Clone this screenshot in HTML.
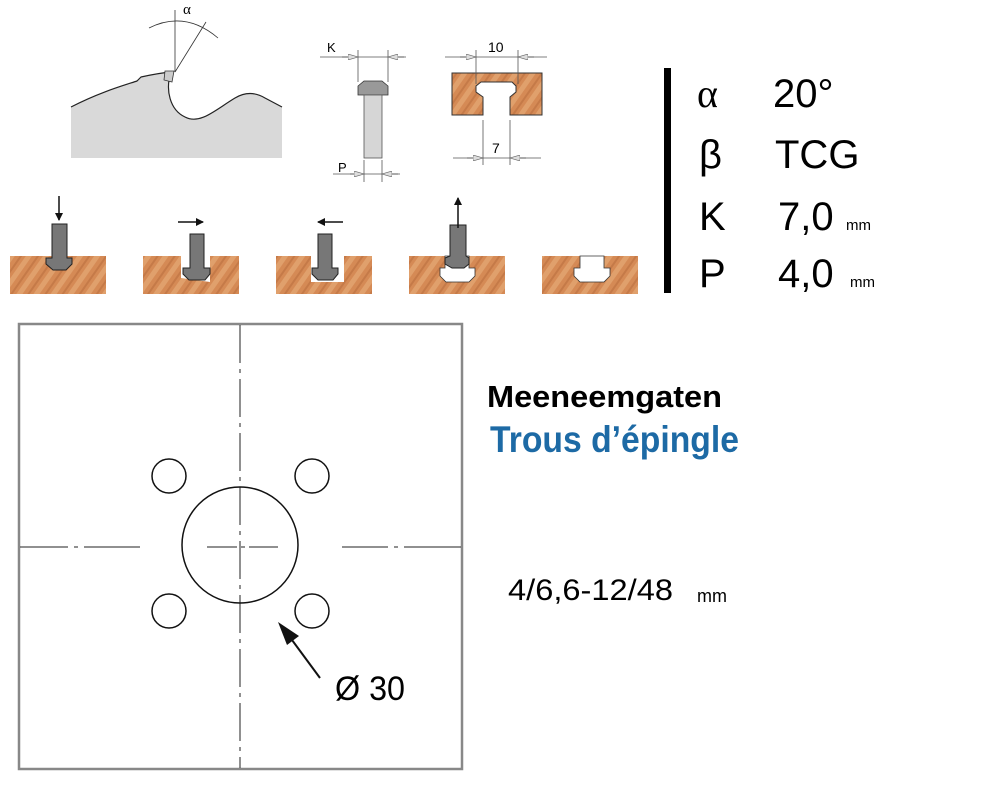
<!DOCTYPE html>
<html><head><meta charset="utf-8"><style>
html,body{margin:0;padding:0;background:#fff;}
svg{display:block;}
</style></head><body>
<svg width="1000" height="798" viewBox="0 0 1000 798" xmlns="http://www.w3.org/2000/svg" font-family="Liberation Sans, Arial, sans-serif">
<defs>
<pattern id="wood" width="14" height="14" patternUnits="userSpaceOnUse" patternTransform="rotate(35)">
<rect width="14" height="14" fill="#d58a55"/>
<rect width="5" height="14" fill="#e0a06c"/>
<rect x="9" width="2" height="14" fill="#c57a48"/>
</pattern>
<marker id="ah" markerWidth="8" markerHeight="8" refX="7" refY="4" orient="auto" markerUnits="userSpaceOnUse"><path d="M0,0 L8,4 L0,8 Z" fill="#111"/></marker>
<marker id="dt" markerWidth="10" markerHeight="6" refX="10" refY="3" orient="auto" markerUnits="userSpaceOnUse"><path d="M0,0 L10,3 L0,6 Z" fill="#ddd" stroke="#666" stroke-width="0.6"/></marker>
</defs>

<!-- saw profile -->
<path d="M71,107 C100,92 125,85 137,81 L141,77 C150,75 160,73 171,72 C165,90 170,110 185,117 C200,125 215,110 235,98 C245,92 255,92 265,98 L282,107 L282,158 L71,158 Z" fill="#d9d9d9"/>
<path d="M71,107 C100,92 125,85 137,81 L141,77 C150,75 160,73 171,72 C165,90 170,110 185,117 C200,125 215,110 235,98 C245,92 255,92 265,98 L282,107" fill="none" stroke="#222" stroke-width="1.2"/>
<path d="M165,71 L174,71 L172,82 L164,80 Z" fill="#ccc" stroke="#333" stroke-width="0.8"/>
<line x1="175" y1="10" x2="175" y2="72" stroke="#333" stroke-width="0.8"/>
<line x1="175" y1="72" x2="206" y2="22" stroke="#333" stroke-width="0.8"/>
<path d="M149,28 Q185,10 218,38" fill="none" stroke="#333" stroke-width="0.8"/>
<text x="183" y="14" font-size="15" font-family="Liberation Serif, serif">α</text>

<!-- tool K/P -->
<line x1="320" y1="57" x2="406" y2="57" stroke="#555" stroke-width="0.8"/>
<line x1="358" y1="50" x2="358" y2="82" stroke="#555" stroke-width="0.8"/>
<line x1="388" y1="50" x2="388" y2="82" stroke="#555" stroke-width="0.8"/>
<line x1="342" y1="57" x2="358" y2="57" stroke="#555" marker-end="url(#dt)"/>
<line x1="404" y1="57" x2="388" y2="57" stroke="#555" marker-end="url(#dt)"/>
<text x="327" y="52" font-size="13">K</text>
<path d="M358,95 L358,86 L364,81 L382,81 L388,86 L388,95 Z" fill="#999" stroke="#333" stroke-width="0.8"/>
<rect x="364" y="95" width="18" height="63" fill="#d6d6d6" stroke="#555" stroke-width="0.8"/>
<line x1="364" y1="160" x2="364" y2="182" stroke="#555" stroke-width="0.8"/>
<line x1="382" y1="160" x2="382" y2="182" stroke="#555" stroke-width="0.8"/>
<line x1="333" y1="174" x2="400" y2="174" stroke="#555" stroke-width="0.8"/>
<line x1="350" y1="174" x2="364" y2="174" stroke="#555" marker-end="url(#dt)"/>
<line x1="398" y1="174" x2="382" y2="174" stroke="#555" marker-end="url(#dt)"/>
<text x="338" y="172" font-size="13">P</text>

<!-- T-slot block -->
<path d="M452,73 L542,73 L542,115 L510,115 L510,97 L516,92 L516,86 L512,82 L481,82 L476,86 L476,92 L483,97 L483,115 L452,115 Z" fill="url(#wood)" stroke="#333" stroke-width="1"/>
<line x1="445" y1="57" x2="547" y2="57" stroke="#555" stroke-width="0.8"/>
<line x1="476" y1="50" x2="476" y2="84" stroke="#555" stroke-width="0.8"/>
<line x1="518" y1="50" x2="518" y2="84" stroke="#555" stroke-width="0.8"/>
<line x1="460" y1="57" x2="476" y2="57" stroke="#555" marker-end="url(#dt)"/>
<line x1="534" y1="57" x2="518" y2="57" stroke="#555" marker-end="url(#dt)"/>
<text x="488" y="52" font-size="14">10</text>
<line x1="453" y1="158" x2="541" y2="158" stroke="#555" stroke-width="0.8"/>
<line x1="483" y1="120" x2="483" y2="165" stroke="#555" stroke-width="0.8"/>
<line x1="510" y1="120" x2="510" y2="165" stroke="#555" stroke-width="0.8"/>
<line x1="467" y1="158" x2="483" y2="158" stroke="#555" marker-end="url(#dt)"/>
<line x1="526" y1="158" x2="510" y2="158" stroke="#555" marker-end="url(#dt)"/>
<text x="492" y="153" font-size="14">7</text>

<!-- bottom sequence -->
<rect x="10" y="256" width="96" height="38" fill="url(#wood)"/>
<path d="M52,224 L67,224 L67,258 L72,258 L72,264 L66,270 L53,270 L46,264 L46,258 L52,258 Z" fill="#777" stroke="#222" stroke-width="1"/>
<line x1="59" y1="196" x2="59" y2="220" stroke="#111" stroke-width="1.5" marker-end="url(#ah)"/>

<rect x="143" y="256" width="96" height="38" fill="url(#wood)"/>
<path d="M181,256 L181,278 L210,282 L210,256 Z" fill="#fff"/>
<path d="M190,234 L204,234 L204,268 L210,268 L210,274 L205,280 L189,280 L183,274 L183,268 L190,268 Z" fill="#777" stroke="#222" stroke-width="1"/>
<line x1="178" y1="222" x2="203" y2="222" stroke="#111" stroke-width="1.5" marker-end="url(#ah)"/>

<rect x="276" y="256" width="96" height="38" fill="url(#wood)"/>
<path d="M311,256 L311,282 L344,282 L344,256 Z" fill="#fff"/>
<path d="M318,234 L332,234 L332,268 L338,268 L338,274 L333,280 L318,280 L312,274 L312,268 L318,268 Z" fill="#777" stroke="#222" stroke-width="1"/>
<line x1="343" y1="222" x2="318" y2="222" stroke="#111" stroke-width="1.5" marker-end="url(#ah)"/>

<rect x="409" y="256" width="96" height="38" fill="url(#wood)"/>
<path d="M445,256 L445,268 L440,268 L440,276 L446,282 L469,282 L475,276 L475,268 L469,268 L469,256 Z" fill="#fff" stroke="#333" stroke-width="0.8"/>
<path d="M450,225 L466,225 L466,256 L469,258 L469,264 L464,268 L452,268 L445,264 L445,258 L450,256 Z" fill="#777" stroke="#222" stroke-width="1"/>
<line x1="458" y1="228" x2="458" y2="198" stroke="#111" stroke-width="1.5" marker-end="url(#ah)"/>

<rect x="542" y="256" width="96" height="38" fill="url(#wood)"/>
<path d="M580,256 L580,268 L574,268 L574,276 L580,282 L604,282 L610,276 L610,268 L604,268 L604,256 Z" fill="#fff" stroke="#333" stroke-width="0.8"/>

<!-- spec table -->
<rect x="664" y="68" width="7" height="225" fill="#000"/>
<g font-size="40" fill="#000">
<text x="697" y="107" font-family="Liberation Serif, serif">α</text>
<text x="773" y="107">20°</text>
<text x="699" y="168">β</text>
<text x="775" y="168">TCG</text>
<text x="699" y="230">K</text>
<text x="778" y="230">7,0</text>
<text x="699" y="287">P</text>
<text x="778" y="287">4,0</text>
</g>
<text x="846" y="230" font-size="15">mm</text>
<text x="850" y="287" font-size="15">mm</text>

<!-- square -->
<rect x="19" y="324" width="443" height="445" fill="none" stroke="#888" stroke-width="2.5"/>
<line x1="240" y1="325" x2="240" y2="768" stroke="#222" stroke-width="1" stroke-dasharray="38,6,4,6"/>
<line x1="20" y1="547" x2="140" y2="547" stroke="#222" stroke-width="1" stroke-dasharray="48,6,4,6,60"/>
<line x1="342" y1="547" x2="461" y2="547" stroke="#222" stroke-width="1" stroke-dasharray="46,6,4,6,60"/>
<line x1="207" y1="547" x2="278" y2="547" stroke="#222" stroke-width="1" stroke-dasharray="30,4,4,4,30"/>
<circle cx="240" cy="545" r="58" fill="none" stroke="#111" stroke-width="1.5"/>
<circle cx="169" cy="476" r="17" fill="none" stroke="#111" stroke-width="1.5"/>
<circle cx="312" cy="476" r="17" fill="none" stroke="#111" stroke-width="1.5"/>
<circle cx="169" cy="611" r="17" fill="none" stroke="#111" stroke-width="1.5"/>
<circle cx="312" cy="611" r="17" fill="none" stroke="#111" stroke-width="1.5"/>
<line x1="320" y1="678" x2="292" y2="640" stroke="#111" stroke-width="2"/>
<path d="M278,622 L299,636 L287,645 Z" fill="#111"/>
<text x="335" y="700" font-size="34" textLength="70" lengthAdjust="spacingAndGlyphs">Ø 30</text>

<!-- labels -->
<text x="487" y="407" font-size="31" font-weight="bold" fill="#000" textLength="235" lengthAdjust="spacingAndGlyphs">Meeneemgaten</text>
<text x="490" y="452" font-size="37" font-weight="bold" fill="#1d6aa5" font-family="Liberation Sans Narrow, Liberation Sans, sans-serif" textLength="249" lengthAdjust="spacingAndGlyphs">Trous d’épingle</text>
<text x="508" y="600" font-size="30" textLength="165" lengthAdjust="spacingAndGlyphs">4/6,6-12/48</text>
<text x="697" y="602" font-size="18">mm</text>
</svg>
</body></html>
